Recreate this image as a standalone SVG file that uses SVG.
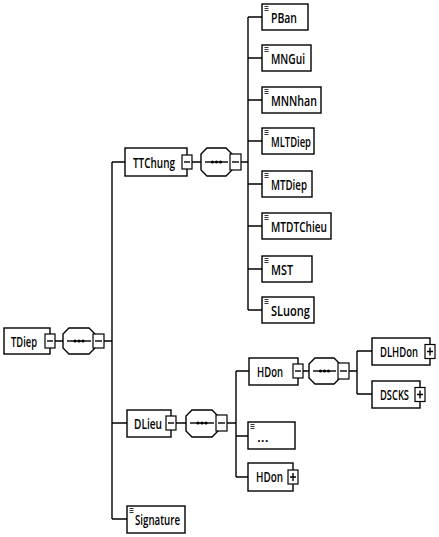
<svg xmlns="http://www.w3.org/2000/svg" width="439" height="537" viewBox="0 0 439 537">
<style>
.box{fill:#fff;stroke:#000;stroke-width:1.4}
.btn{fill:#fff;stroke:#000;stroke-width:1.2}
.seq{fill:#fff;stroke:#000;stroke-width:1.4}
.ln{fill:none;stroke:#000;stroke-width:1.4}
.ic{fill:none;stroke:#000;stroke-width:0.8}
.t{font-family:"Open Sans","Noto Sans",sans-serif;font-size:14px;font-weight:600;fill:#000}
</style>
<rect width="439" height="537" fill="#fff"/>
<g id="connectors">
<path class="ln" d="M55 341H63 M104 341H112 M112 162V519 M112 162H125 M112 423H127 M112 519H127"/>
<path class="ln" d="M192 162H201 M241 162H248 M248 17V310 M248 17H262 M248 58H262 M248 100H262 M248 141H262 M248 184H262 M248 226H262 M248 269H262 M248 310H262"/>
<path class="ln" d="M176 423H186 M227 423H236 M236 371V477 M236 371H249 M236 436H248 M236 477H248"/>
<path class="ln" d="M303 371H309 M349 371H357 M357 351V394 M357 351H372 M357 394H372"/>
</g>
<g id="TDiep">
<rect class="box" x="4" y="328" width="46" height="26"/>
<text class="t" x="11" y="346.5" textLength="26" lengthAdjust="spacingAndGlyphs">TDiep</text>
<rect class="btn" x="45" y="334" width="10" height="14"/><path class="ln" d="M47 341H53"/>
</g>
<g id="seq1">
<path class="seq" d="M69 328H89L95 334V348L89 354H69L63 348V334Z"/>
<path class="ln" d="M67 341H91"/><circle cx="75" cy="341" r="1.6"/><circle cx="79" cy="341" r="1.6"/><circle cx="83" cy="341" r="1.6"/>
<rect class="btn" x="93" y="334" width="11" height="14"/><path class="ln" d="M95 341H102"/>
</g>
<g id="TTChung">
<rect class="box" x="125" y="148" width="62" height="28"/>
<text class="t" x="133" y="167.5" textLength="42" lengthAdjust="spacingAndGlyphs">TTChung</text>
<rect class="btn" x="182" y="155" width="10" height="14"/><path class="ln" d="M184 162H190"/>
</g>
<g id="seq2">
<path class="seq" d="M207 148H226L232 154V170L226 176H207L201 170V154Z"/>
<path class="ln" d="M205 162H228"/><circle cx="212.5" cy="162" r="1.6"/><circle cx="216.5" cy="162" r="1.6"/><circle cx="220.5" cy="162" r="1.6"/>
<rect class="btn" x="230" y="154" width="11" height="16"/><path class="ln" d="M232 162H239"/>
</g>
<g id="PBan"><rect class="box" x="262" y="4" width="46" height="26"/><path class="ic" d="M264.5 6.5H268.5M264.5 8.5H268.5M264.5 10.5H268.5"/><text class="t" x="271" y="22.5" textLength="26" lengthAdjust="spacingAndGlyphs">PBan</text></g>
<g id="MNGui"><rect class="box" x="262" y="45" width="49" height="26"/><path class="ic" d="M264.5 47.5H268.5M264.5 49.5H268.5M264.5 51.5H268.5"/><text class="t" x="271" y="63.5" textLength="34" lengthAdjust="spacingAndGlyphs">MNGui</text></g>
<g id="MNNhan"><rect class="box" x="262" y="87" width="59" height="26"/><path class="ic" d="M264.5 89.5H268.5M264.5 91.5H268.5M264.5 93.5H268.5"/><text class="t" x="271" y="105.5" textLength="46" lengthAdjust="spacingAndGlyphs">MNNhan</text></g>
<g id="MLTDiep"><rect class="box" x="262" y="128" width="52" height="26"/><path class="ic" d="M264.5 130.5H268.5M264.5 132.5H268.5M264.5 134.5H268.5"/><text class="t" x="271" y="146.5" textLength="40" lengthAdjust="spacingAndGlyphs">MLTDiep</text></g>
<g id="MTDiep"><rect class="box" x="262" y="171" width="50" height="26"/><path class="ic" d="M264.5 173.5H268.5M264.5 175.5H268.5M264.5 177.5H268.5"/><text class="t" x="271" y="189.5" textLength="36" lengthAdjust="spacingAndGlyphs">MTDiep</text></g>
<g id="MTDTChieu"><rect class="box" x="262" y="213" width="69" height="26"/><path class="ic" d="M264.5 215.5H268.5M264.5 217.5H268.5M264.5 219.5H268.5"/><text class="t" x="271" y="231.5" textLength="56" lengthAdjust="spacingAndGlyphs">MTDTChieu</text></g>
<g id="MST"><rect class="box" x="262" y="256" width="50" height="26"/><path class="ic" d="M264.5 258.5H268.5M264.5 260.5H268.5M264.5 262.5H268.5"/><text class="t" x="271" y="274.5" textLength="22" lengthAdjust="spacingAndGlyphs">MST</text></g>
<g id="SLuong"><rect class="box" x="262" y="297" width="52" height="26"/><path class="ic" d="M264.5 299.5H268.5M264.5 301.5H268.5M264.5 303.5H268.5"/><text class="t" x="271" y="315.5" textLength="39" lengthAdjust="spacingAndGlyphs">SLuong</text></g>
<g id="DLieu">
<rect class="box" x="127" y="410" width="44" height="27"/>
<text class="t" x="134" y="428.5" textLength="28" lengthAdjust="spacingAndGlyphs">DLieu</text>
<rect class="btn" x="166" y="416" width="10" height="14"/><path class="ln" d="M168 423H174"/>
</g>
<g id="seq3">
<path class="seq" d="M192 410H212L218 416V431L212 437H192L186 431V416Z"/>
<path class="ln" d="M190 423H214"/><circle cx="198" cy="423" r="1.6"/><circle cx="202" cy="423" r="1.6"/><circle cx="206" cy="423" r="1.6"/>
<rect class="btn" x="216" y="415" width="11" height="16"/><path class="ln" d="M218 423H225"/>
</g>
<g id="HDon1">
<rect class="box" x="249" y="358" width="49" height="27"/>
<text class="t" x="257" y="376.5" textLength="26" lengthAdjust="spacingAndGlyphs">HDon</text>
<rect class="btn" x="293" y="364" width="10" height="14"/><path class="ln" d="M295 371H301"/>
</g>
<g id="seq4">
<path class="seq" d="M315 358H334L340 364V378L334 384H315L309 378V364Z"/>
<path class="ln" d="M313 371H336"/><circle cx="320.5" cy="371" r="1.6"/><circle cx="324.5" cy="371" r="1.6"/><circle cx="328.5" cy="371" r="1.6"/>
<rect class="btn" x="338" y="363" width="11" height="16"/><path class="ln" d="M340 371H347"/>
</g>
<g id="DLHDon">
<rect class="box" x="372" y="338" width="58" height="27"/>
<text class="t" x="380" y="356.5" textLength="38" lengthAdjust="spacingAndGlyphs">DLHDon</text>
<rect class="btn" x="425" y="344.5" width="10" height="14"/><path class="ln" d="M427 351.5H433M430 347.5V355.5"/>
</g>
<g id="DSCKS">
<rect class="box" x="372" y="381" width="48" height="27"/>
<text class="t" x="380" y="399.5" textLength="29" lengthAdjust="spacingAndGlyphs">DSCKS</text>
<rect class="btn" x="415" y="387.5" width="10" height="14"/><path class="ln" d="M417 394.5H423M420 390.5V398.5"/>
</g>
<g id="Ellipsis">
<rect class="box" x="248" y="422" width="47" height="27"/>
<path class="ic" d="M250.5 424.5H254.5M250.5 426.5H254.5M250.5 428.5H254.5"/>
<text class="t" x="257" y="442">...</text>
</g>
<g id="HDon2">
<rect class="box" x="248" y="463" width="45" height="28"/>
<text class="t" x="256" y="482" textLength="27" lengthAdjust="spacingAndGlyphs">HDon</text>
<rect class="btn" x="288" y="470" width="10" height="14"/><path class="ln" d="M290 477H296M293 473V481"/>
</g>
<g id="Signature">
<rect class="box" x="127" y="506" width="58" height="27"/>
<path class="ic" d="M129.5 508.5H133.5M129.5 510.5H133.5M129.5 512.5H133.5"/>
<text class="t" x="135" y="524.5" textLength="45" lengthAdjust="spacingAndGlyphs">Signature</text>
</g>
</svg>
